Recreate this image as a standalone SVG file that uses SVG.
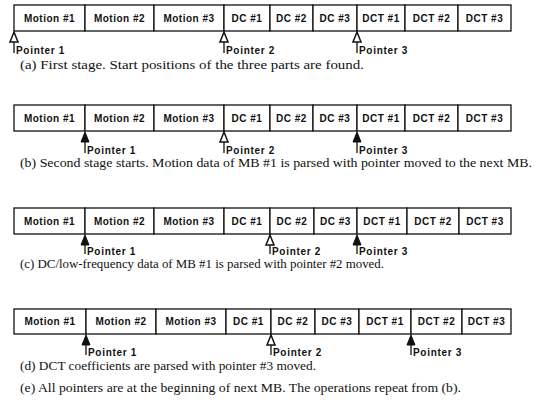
<svg xmlns="http://www.w3.org/2000/svg" width="549" height="417" viewBox="0 0 549 417">
<style>
.cell{fill:#fff;stroke:#111;stroke-width:1.3}
.lbl{font-family:"Liberation Sans",Arial,sans-serif;font-weight:bold;font-size:10px;fill:#111;text-anchor:middle;letter-spacing:0.5px}
.ptxt{font-family:"Liberation Sans",Arial,sans-serif;font-weight:bold;font-size:10px;fill:#111;letter-spacing:0.7px}
.cap{font-family:"Liberation Serif","Times New Roman",serif;font-size:13px;fill:#111}
.stem{stroke:#111;stroke-width:1.3;fill:none}
.hollow{fill:#fff;stroke:#111;stroke-width:1.5}
.filled{fill:#111;stroke:#111;stroke-width:1}
</style>
<defs>
<path id="hd" d="M0,0 L-4,10 L4,10 Z"/>
</defs>

<!-- Row (a) -->
<g id="row-a">
<g id="a-m1"><rect class="cell" x="14" y="5" width="71" height="26"/><text class="lbl" x="49.5" y="21.5">Motion #1</text></g>
<g id="a-m2"><rect class="cell" x="85" y="5" width="69" height="26"/><text class="lbl" x="119.5" y="21.5">Motion #2</text></g>
<g id="a-m3"><rect class="cell" x="154" y="5" width="70" height="26"/><text class="lbl" x="189" y="21.5">Motion #3</text></g>
<g id="a-dc1"><rect class="cell" x="224" y="5" width="46" height="26"/><text class="lbl" x="247" y="21.5">DC #1</text></g>
<g id="a-dc2"><rect class="cell" x="270" y="5" width="43" height="26"/><text class="lbl" x="291.5" y="21.5">DC #2</text></g>
<g id="a-dc3"><rect class="cell" x="313" y="5" width="44" height="26"/><text class="lbl" x="335" y="21.5">DC #3</text></g>
<g id="a-dct1"><rect class="cell" x="357" y="5" width="48" height="26"/><text class="lbl" x="381" y="21.5">DCT #1</text></g>
<g id="a-dct2"><rect class="cell" x="405" y="5" width="53" height="26"/><text class="lbl" x="431.5" y="21.5">DCT #2</text></g>
<g id="a-dct3"><rect class="cell" x="458" y="5" width="53" height="26"/><text class="lbl" x="484.5" y="21.5">DCT #3</text></g>
</g>

<!-- Row (b) -->
<g id="row-b">
<g id="b-m1"><rect class="cell" x="14" y="105" width="71" height="26"/><text class="lbl" x="49.5" y="121.5">Motion #1</text></g>
<g id="b-m2"><rect class="cell" x="85" y="105" width="69" height="26"/><text class="lbl" x="119.5" y="121.5">Motion #2</text></g>
<g id="b-m3"><rect class="cell" x="154" y="105" width="70" height="26"/><text class="lbl" x="189" y="121.5">Motion #3</text></g>
<g id="b-dc1"><rect class="cell" x="224" y="105" width="46" height="26"/><text class="lbl" x="247" y="121.5">DC #1</text></g>
<g id="b-dc2"><rect class="cell" x="270" y="105" width="43" height="26"/><text class="lbl" x="291.5" y="121.5">DC #2</text></g>
<g id="b-dc3"><rect class="cell" x="313" y="105" width="44" height="26"/><text class="lbl" x="335" y="121.5">DC #3</text></g>
<g id="b-dct1"><rect class="cell" x="357" y="105" width="48" height="26"/><text class="lbl" x="381" y="121.5">DCT #1</text></g>
<g id="b-dct2"><rect class="cell" x="405" y="105" width="53" height="26"/><text class="lbl" x="431.5" y="121.5">DCT #2</text></g>
<g id="b-dct3"><rect class="cell" x="458" y="105" width="53" height="26"/><text class="lbl" x="484.5" y="121.5">DCT #3</text></g>
</g>

<!-- Row (c) -->
<g id="row-c">
<g id="c-m1"><rect class="cell" x="14" y="208" width="71" height="26"/><text class="lbl" x="49.5" y="224.5">Motion #1</text></g>
<g id="c-m2"><rect class="cell" x="85" y="208" width="69" height="26"/><text class="lbl" x="119.5" y="224.5">Motion #2</text></g>
<g id="c-m3"><rect class="cell" x="154" y="208" width="70" height="26"/><text class="lbl" x="189" y="224.5">Motion #3</text></g>
<g id="c-dc1"><rect class="cell" x="224" y="208" width="46" height="26"/><text class="lbl" x="247" y="224.5">DC #1</text></g>
<g id="c-dc2"><rect class="cell" x="270" y="208" width="44" height="26"/><text class="lbl" x="292" y="224.5">DC #2</text></g>
<g id="c-dc3"><rect class="cell" x="314" y="208" width="43" height="26"/><text class="lbl" x="335.5" y="224.5">DC #3</text></g>
<g id="c-dct1"><rect class="cell" x="357" y="208" width="50" height="26"/><text class="lbl" x="382" y="224.5">DCT #1</text></g>
<g id="c-dct2"><rect class="cell" x="407" y="208" width="52" height="26"/><text class="lbl" x="433" y="224.5">DCT #2</text></g>
<g id="c-dct3"><rect class="cell" x="459" y="208" width="52" height="26"/><text class="lbl" x="485" y="224.5">DCT #3</text></g>
</g>

<!-- Row (d) -->
<g id="row-d">
<g id="d-m1"><rect class="cell" x="14" y="309" width="72" height="25"/><text class="lbl" x="50" y="325">Motion #1</text></g>
<g id="d-m2"><rect class="cell" x="86" y="309" width="70" height="25"/><text class="lbl" x="121" y="325">Motion #2</text></g>
<g id="d-m3"><rect class="cell" x="156" y="309" width="70" height="25"/><text class="lbl" x="191" y="325">Motion #3</text></g>
<g id="d-dc1"><rect class="cell" x="226" y="309" width="45" height="25"/><text class="lbl" x="248.5" y="325">DC #1</text></g>
<g id="d-dc2"><rect class="cell" x="271" y="309" width="44" height="25"/><text class="lbl" x="293" y="325">DC #2</text></g>
<g id="d-dc3"><rect class="cell" x="315" y="309" width="44" height="25"/><text class="lbl" x="337" y="325">DC #3</text></g>
<g id="d-dct1"><rect class="cell" x="359" y="309" width="52" height="25"/><text class="lbl" x="385" y="325">DCT #1</text></g>
<g id="d-dct2"><rect class="cell" x="411" y="309" width="51" height="25"/><text class="lbl" x="436.5" y="325">DCT #2</text></g>
<g id="d-dct3"><rect class="cell" x="462" y="309" width="49" height="25"/><text class="lbl" x="486.5" y="325">DCT #3</text></g>
</g>

<!-- Pointers -->
<g id="connectors">
<g id="a-p1"><path class="stem" d="M14,41 V53"/><use href="#hd" class="hollow" x="14" y="32"/><text class="ptxt" x="16" y="54">Pointer 1</text></g>
<g id="a-p2"><path class="stem" d="M224,41 V53"/><use href="#hd" class="hollow" x="224" y="32"/><text class="ptxt" x="226" y="54">Pointer 2</text></g>
<g id="a-p3"><path class="stem" d="M357,41 V53"/><use href="#hd" class="hollow" x="357" y="32"/><text class="ptxt" x="359" y="54">Pointer 3</text></g>
<g id="b-p1"><path class="stem" d="M85,141 V153"/><use href="#hd" class="filled" x="85" y="132"/><text class="ptxt" x="87" y="154">Pointer 1</text></g>
<g id="b-p2"><path class="stem" d="M224,141 V153"/><use href="#hd" class="hollow" x="224" y="132"/><text class="ptxt" x="226" y="154">Pointer 2</text></g>
<g id="b-p3"><path class="stem" d="M357,141 V153"/><use href="#hd" class="filled" x="357" y="132"/><text class="ptxt" x="359" y="154">Pointer 3</text></g>
<g id="c-p1"><path class="stem" d="M85,244 V254"/><use href="#hd" class="filled" x="85" y="235"/><text class="ptxt" x="87" y="255">Pointer 1</text></g>
<g id="c-p2"><path class="stem" d="M270,244 V254"/><use href="#hd" class="hollow" x="270" y="235"/><text class="ptxt" x="272" y="255">Pointer 2</text></g>
<g id="c-p3"><path class="stem" d="M357,244 V254"/><use href="#hd" class="filled" x="357" y="235"/><text class="ptxt" x="359" y="255">Pointer 3</text></g>
<g id="d-p1"><path class="stem" d="M86,344 V355"/><use href="#hd" class="filled" x="86" y="335"/><text class="ptxt" x="88" y="356">Pointer 1</text></g>
<g id="d-p2"><path class="stem" d="M271,344 V355"/><use href="#hd" class="hollow" x="271" y="335"/><text class="ptxt" x="273" y="356">Pointer 2</text></g>
<g id="d-p3"><path class="stem" d="M411,344 V355"/><use href="#hd" class="filled" x="411" y="335"/><text class="ptxt" x="413" y="356">Pointer 3</text></g>
</g>

<!-- Captions -->
<g id="captions">
<text class="cap" x="20" y="69" textLength="344" lengthAdjust="spacingAndGlyphs">(a) First stage. Start positions of the three parts are found.</text>
<text class="cap" x="20" y="167" textLength="512" lengthAdjust="spacingAndGlyphs">(b) Second stage starts. Motion data of MB #1 is parsed with pointer moved to the next MB.</text>
<text class="cap" x="20" y="268" textLength="364" lengthAdjust="spacingAndGlyphs">(c) DC/low-frequency data of MB #1 is parsed with pointer #2 moved.</text>
<text class="cap" x="20" y="370" textLength="296" lengthAdjust="spacingAndGlyphs">(d) DCT coefficients are parsed with pointer #3 moved.</text>
<text class="cap" x="20" y="392" textLength="441" lengthAdjust="spacingAndGlyphs">(e) All pointers are at the beginning of next MB. The operations repeat from (b).</text>
</g>
</svg>
